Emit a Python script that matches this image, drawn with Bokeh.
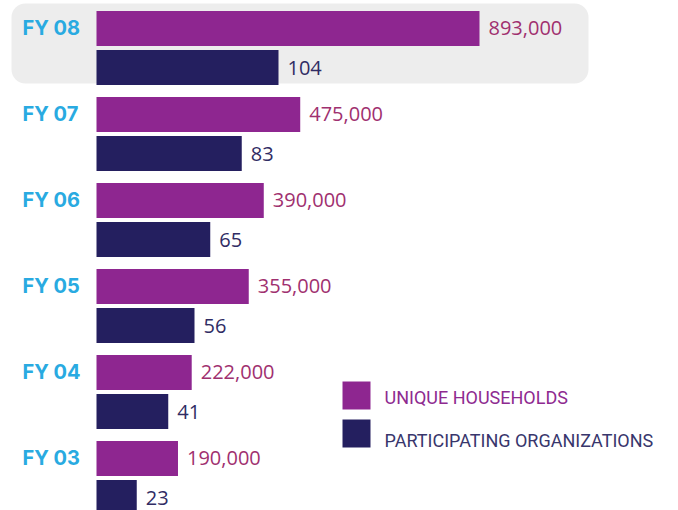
from bokeh.plotting import figure
from bokeh.models import Range1d, ColumnDataSource, BoxAnnotation, Label
from bokeh.transform import dodge
from bokeh.core.properties import value
from bokeh.embed import file_html
from bokeh.resources import INLINE

# ---- data ----
years = ["FY 08", "FY 07", "FY 06", "FY 05", "FY 04", "FY 03"]
households = [893000, 475000, 390000, 355000, 222000, 190000]
organizations = [104, 83, 65, 56, 41, 23]
series_names = ["UNIQUE HOUSEHOLDS", "PARTICIPATING ORGANIZATIONS"]

# ---- colours / fonts ----
PURPLE = "#8E2690"
NAVY = "#241F5F"
PURPLE_TXT = "#A0306F"
NAVY_TXT = "#302C64"
LEG_PURPLE = "#8E2A90"
LEG_NAVY = "#38366C"
BLUE = "#29AAE1"
BOX = "#EDEDED"

# ---- layout (pixels) ----
W, H = 678, 510
X0 = 96            # pixel position of zero
HH_PX = 383 / 893000   # pixels per household
ORG_PX = 182 / 104     # pixels per organization
PITCH = 86         # pixels between groups
C0 = 47.5          # pixel centre of first group
OFF = 0.227        # dodge (group units)
BAR_H = 0.405

def px2hh(px):
    return (px - X0) / HH_PX

def py2y(py):
    return (py - C0) / PITCH

p = figure(width=W, height=H, output_backend="svg", toolbar_location=None,
           x_range=Range1d(px2hh(0), px2hh(W)),
           y_range=Range1d(py2y(H), py2y(0)),
           min_border=0, outline_line_color=None)
p.extra_x_ranges = {"orgs": Range1d((0 - X0) / ORG_PX, (W - X0) / ORG_PX)}
p.axis.visible = False
p.grid.visible = False
p.background_fill_color = "white"
p.border_fill_color = "white"

# highlight box behind the latest year
p.add_layout(BoxAnnotation(left=px2hh(11), right=px2hh(588), top=py2y(3), bottom=py2y(83),
                           fill_color=BOX, fill_alpha=1, line_color=None,
                           border_radius=14, level="underlay"))

src = ColumnDataSource(dict(
    idx=list(range(len(years))),
    year=years,
    hh=households,
    org=organizations,
    hh_lbl=[f"{v:,}" for v in households],
    org_lbl=[str(v) for v in organizations],
    zero=[0] * len(years),
))

p.hbar(y=dodge("idx", -OFF), left=0, right="hh", height=BAR_H, source=src,
       fill_color=PURPLE, line_color=None)
p.hbar(y=dodge("idx", OFF), left=0, right="org", height=BAR_H, source=src,
       fill_color=NAVY, line_color=None, x_range_name="orgs")

p.text(x="hh", y=dodge("idx", -OFF), text="hh_lbl", source=src, x_offset=9,
       text_align="left", text_baseline="middle", text_color=PURPLE_TXT,
       text_font=value("Open Sans"), text_font_size="20px")
p.text(x="org", y=dodge("idx", OFF), text="org_lbl", source=src, x_offset=9,
       text_align="left", text_baseline="middle", text_color=NAVY_TXT,
       text_font=value("Open Sans"), text_font_size="20px", x_range_name="orgs")

p.text(x="zero", y=dodge("idx", -OFF), text="year", source=src, x_offset=-74,
       text_align="left", text_baseline="middle", text_color=BLUE,
       text_font=value("Inter"), text_font_style="bold", text_font_size="20px")

# legend
legend_rows = [(series_names[0], PURPLE, LEG_PURPLE, 381, 397),
               (series_names[1], NAVY, LEG_NAVY, 419, 440)]
for name, fc, tc, top, ty in legend_rows:
    p.add_layout(BoxAnnotation(left=px2hh(342), right=px2hh(370),
                               top=py2y(top), bottom=py2y(top + 28),
                               fill_color=fc, fill_alpha=1, line_color=None))
    p.add_layout(Label(x=px2hh(384), y=py2y(ty), text=name,
                       text_align="left", text_baseline="middle", text_color=tc,
                       text_font="Roboto", text_font_size="18px"))

open("out.html", "w").write(file_html(p, INLINE))
